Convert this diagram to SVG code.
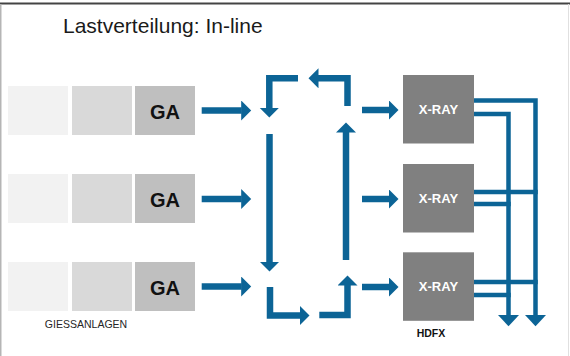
<svg xmlns="http://www.w3.org/2000/svg" width="570" height="356" viewBox="0 0 570 356">
<style>
.ga1{fill:#f2f2f2}.ga2{fill:#d9d9d9}.ga3{fill:#bfbfbf}
.gat{font-family:"Liberation Sans",Arial,sans-serif;font-weight:bold;font-size:20px;fill:#111;text-anchor:middle}
.xr{fill:#808080}
.xrt{font-family:"Liberation Sans",Arial,sans-serif;font-weight:bold;font-size:13px;fill:#fff;text-anchor:middle}
.flow{fill:none;stroke:#0c6496;stroke-width:6.5;stroke-linejoin:miter;marker-end:url(#ah)}
.flowp{fill:none;stroke:#0c6496;stroke-width:6.5;stroke-linejoin:miter}
.out{fill:none;stroke:#0c6496;stroke-width:4.5;stroke-linejoin:miter}
.outa{marker-end:url(#ah2)}
.lbl{font-family:"Liberation Sans",Arial,sans-serif;font-size:10.5px;fill:#262626;text-anchor:middle}
</style>
<defs>
<marker id="ah" markerUnits="userSpaceOnUse" markerWidth="11" markerHeight="20" refX="0.5" refY="10" orient="auto" viewBox="0 0 11 20">
<path d="M0,0 L10,10 L0,20 z" fill="#0c6496"/>
</marker>
<marker id="ah2" markerUnits="userSpaceOnUse" markerWidth="12" markerHeight="22" refX="0.5" refY="11" orient="auto" viewBox="0 0 12 22">
<path d="M0,0 L11.7,11 L0,22 z" fill="#0c6496"/>
</marker>
</defs>
<rect width="570" height="356" fill="#fff"/>
<g id="frame">
<line x1="0" y1="3.5" x2="570" y2="3.5" stroke="#444" stroke-width="2"/>
<line x1="0.75" y1="4" x2="0.75" y2="356" stroke="#b5b5b5" stroke-width="1.5"/>
<line x1="568.5" y1="4" x2="568.5" y2="356" stroke="#e0e0e0" stroke-width="1"/>
</g>
<g id="title">
<text x="63" y="33.3" font-family="Liberation Sans,Arial,sans-serif" font-size="21" fill="#1a1a1a">Lastverteilung: In-line</text>
</g>
<g id="row1">
<rect class="ga1" x="8" y="86" width="60" height="49"/>
<rect class="ga2" x="72" y="86" width="60" height="49"/>
<rect class="ga3" x="135" y="86" width="60" height="49"/>
<text class="gat" x="165" y="118.5">GA</text>
</g>
<g id="row2">
<rect class="ga1" x="8" y="174" width="60" height="49"/>
<rect class="ga2" x="72" y="174" width="60" height="49"/>
<rect class="ga3" x="135" y="174" width="60" height="49"/>
<text class="gat" x="165" y="206.5">GA</text>
</g>
<g id="row3">
<rect class="ga1" x="8" y="262" width="60" height="49"/>
<rect class="ga2" x="72" y="262" width="60" height="49"/>
<rect class="ga3" x="135" y="262" width="60" height="49"/>
<text class="gat" x="165" y="294.5">GA</text>
</g>
<g id="giessanlagen-label">
<text class="lbl" x="86" y="328">GIESSANLAGEN</text>
</g>
<g id="xray1">
<rect class="xr" x="403" y="75" width="71" height="68.5"/>
<text class="xrt" x="438.5" y="114">X-RAY</text>
</g>
<g id="xray2">
<rect class="xr" x="403" y="164" width="71" height="68.5"/>
<text class="xrt" x="438.5" y="203">X-RAY</text>
</g>
<g id="xray3">
<rect class="xr" x="403" y="252.3" width="71" height="68.5"/>
<text class="xrt" x="438.5" y="291.3">X-RAY</text>
</g>
<g id="hdfx-label">
<text x="431" y="337.3" font-family="Liberation Sans,Arial,sans-serif" font-weight="bold" font-size="10.5" fill="#111" text-anchor="middle">HDFX</text>
</g>
<g id="connectors">
<path class="flow" d="M201.7,110.5 H241.7"/>
<path class="flow" d="M201.7,199 H241.7"/>
<path class="flow" d="M201.7,286.5 H241.7"/>
<path class="flow" d="M298,78.3 H269.3 V108"/>
<path class="flow" d="M347.5,106 V78.3 H318"/>
<path class="flow" d="M269.5,134 V262"/>
<path class="flow" d="M346,260 V132"/>
<path class="flow" d="M270,287 V315.5 H300"/>
<path class="flow" d="M319.3,315 H347.5 V285"/>
<path class="flow" d="M362,110 H389"/>
<path class="flow" d="M362,199 H389"/>
<path class="flow" d="M362,287 H389"/>
<path class="out outa" d="M474,100.5 H535.5 V315"/>
<path class="out outa" d="M474,114 H508.5 V315"/>
<path class="out" d="M474,192 H537.75"/>
<path class="out" d="M474,204 H510.75"/>
<path class="out" d="M474,282 H537.75"/>
<path class="out" d="M474,295 H510.75"/>
</g>
</svg>
